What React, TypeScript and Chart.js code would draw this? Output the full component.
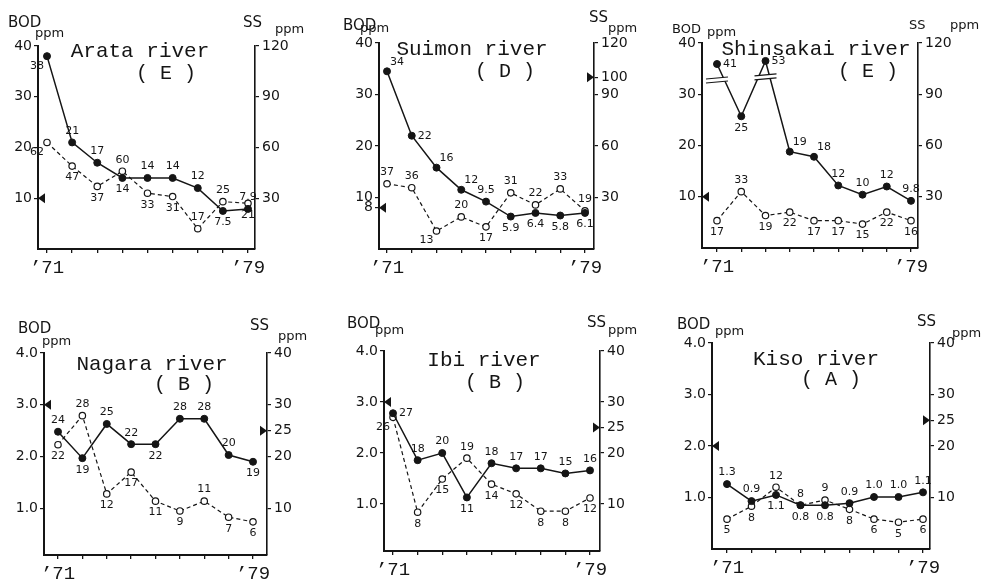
import React, { useEffect, useRef } from "react";
import { Chart, registerables } from "chart.js";

Chart.register(...registerables);

// ---------- data ----------
const years = [1971, 1972, 1973, 1974, 1975, 1976, 1977, 1978, 1979];
const firstYearLabel = "’71";
const lastYearLabel = "’79";

const arataBOD = [38, 21, 17, 14, 14, 14, 12, 7.5, 7.9];
const arataBODLabels = ["38", "21", "17", "14", "14", "14", "12", "7.5", "7.9"];
const arataSS = [63, 49, 37, 46, 33, 31, 12, 28, 27];
const arataSSLabels = ["62", "47", "37", "60", "33", "31", "17", "25", "21"];

const suimonBOD = [34.5, 22, 15.8, 11.5, 9.2, 6.3, 7.0, 6.5, 7.0];
const suimonBODLabels = ["34", "22", "16", "12", "9.5", "5.9", "6.4", "5.8", "6.1"];
const suimonSS = [38, 35.7, 10.5, 18.7, 12.9, 32.7, 25.7, 35, 22.2];
const suimonSSLabels = ["37", "36", "13", "20", "17", "31", "22", "33", "19"];

const shinsakaiBOD = [35.9, 25.7, 36.5, 18.8, 17.8, 12.2, 10.4, 12, 9.2];
const shinsakaiBODLabels = ["41", "25", "53", "19", "18", "12", "10", "12", "9.8"];
const shinsakaiSS = [16, 33, 19, 21, 16, 16, 14, 21, 16];
const shinsakaiSSLabels = ["17", "33", "19", "22", "17", "17", "15", "22", "16"];

const nagaraBOD = [2.48, 1.97, 2.63, 2.24, 2.24, 2.73, 2.73, 2.03, 1.9];
const nagaraBODLabels = ["24", "19", "25", "22", "22", "28", "28", "20", "19"];
const nagaraSS = [22.3, 27.9, 12.8, 17, 11.4, 9.5, 11.4, 8.3, 7.4];
const nagaraSSLabels = ["22", "28", "12", "17", "11", "9", "11", "7", "6"];

const ibiBOD = [2.78, 1.86, 2.0, 1.13, 1.8, 1.7, 1.7, 1.6, 1.66];
const ibiBODLabels = ["27", "18", "20", "11", "18", "17", "17", "15", "16"];
const ibiSS = [27, 8.4, 14.9, 19, 13.9, 12, 8.6, 8.6, 11.2];
const ibiSSLabels = ["26", "8", "15", "19", "14", "12", "8", "8", "12"];

const kisoBOD = [1.26, 0.93, 1.05, 0.85, 0.85, 0.89, 1.01, 1.01, 1.1];
const kisoBODLabels = ["1.3", "0.9", "1.1", "0.8", "0.8", "0.9", "1.0", "1.0", "1.1"];
const kisoSS = [5.8, 8.3, 12, 8.5, 9.5, 7.7, 5.8, 5.2, 5.8];
const kisoSSLabels = ["5", "8", "12", "8", "9", "8", "6", "5", "6"];

const topBODTicks = [10, 20, 30, 40];
const suimonBODTicks = [8, 10, 20, 30, 40];
const topSSTicks = [30, 60, 90, 120];
const suimonSSTicks = [30, 60, 90, 100, 120];
const bottomBODTicks = [1, 2, 3, 4];
const bottomSSTicks = [10, 20, 25, 30, 40];

// ---------- panels ----------
type Panel = {
  name: string;
  grade: string;
  bod: number[];
  bodLabels: string[];
  ss: number[];
  ssLabels: string[];
  bodTicks: number[];
  ssTicks: number[];
  bodMax: number;
  ssMax: number;
  bodStd: number;
  ssStd: number | null;
  decimals: number;
  breaks: number[];
};

const panels: Panel[] = [
  { name: "Arata river", grade: "( E )", bod: arataBOD, bodLabels: arataBODLabels, ss: arataSS, ssLabels: arataSSLabels, bodTicks: topBODTicks, ssTicks: topSSTicks, bodMax: 40, ssMax: 120, bodStd: 10, ssStd: null, decimals: 0, breaks: [] },
  { name: "Suimon river", grade: "( D )", bod: suimonBOD, bodLabels: suimonBODLabels, ss: suimonSS, ssLabels: suimonSSLabels, bodTicks: suimonBODTicks, ssTicks: suimonSSTicks, bodMax: 40, ssMax: 120, bodStd: 8, ssStd: 100, decimals: 0, breaks: [] },
  { name: "Shinsakai river", grade: "( E )", bod: shinsakaiBOD, bodLabels: shinsakaiBODLabels, ss: shinsakaiSS, ssLabels: shinsakaiSSLabels, bodTicks: topBODTicks, ssTicks: topSSTicks, bodMax: 40, ssMax: 120, bodStd: 10, ssStd: null, decimals: 0, breaks: [0, 2] },
  { name: "Nagara river", grade: "( B )", bod: nagaraBOD, bodLabels: nagaraBODLabels, ss: nagaraSS, ssLabels: nagaraSSLabels, bodTicks: bottomBODTicks, ssTicks: bottomSSTicks, bodMax: 4, ssMax: 40, bodStd: 3, ssStd: 25, decimals: 1, breaks: [] },
  { name: "Ibi river", grade: "( B )", bod: ibiBOD, bodLabels: ibiBODLabels, ss: ibiSS, ssLabels: ibiSSLabels, bodTicks: bottomBODTicks, ssTicks: bottomSSTicks, bodMax: 4, ssMax: 40, bodStd: 3, ssStd: 25, decimals: 1, breaks: [] },
  { name: "Kiso river", grade: "( A )", bod: kisoBOD, bodLabels: kisoBODLabels, ss: kisoSS, ssLabels: kisoSSLabels, bodTicks: bottomBODTicks, ssTicks: bottomSSTicks, bodMax: 4, ssMax: 40, bodStd: 2, ssStd: 25, decimals: 1, breaks: [] },
];

// ---------- layout (page pixel geometry, label placement) ----------
type Pt = [number, number];
type Layout = {
  cx: number; cy: number; cw: number; ch: number;
  L: number; R: number; T: number; B: number;
  x0: number; x1: number; yMin: number;
  title: Pt; grade: Pt; bodHead: Pt; ppmL: Pt; ssHead: Pt; ppmR: Pt;
  headSize: number;
  bodPos: string[]; ssPos: string[];
};

const layouts: Layout[] = [
  { cx: 0, cy: 0, cw: 320, ch: 290, L: 38, R: 255, T: 46, B: 249, x0: 47, x1: 248, yMin: 0,
    title: [140, 57], grade: [166, 79], bodHead: [8, 27], ppmL: [35, 37], ssHead: [243, 27], ppmR: [275, 33], headSize: 15,
    bodPos: ["bl", "a", "a", "b", "a", "a", "a", "b", "a"], ssPos: ["bl", "b", "b", "a", "b", "b", "a", "a", "b"] },
  { cx: 320, cy: 0, cw: 320, ch: 290, L: 379, R: 594, T: 43, B: 249, x0: 387, x1: 585, yMin: 0,
    title: [472, 55], grade: [505, 77], bodHead: [343, 30], ppmL: [360, 32], ssHead: [589, 22], ppmR: [608, 32], headSize: 15,
    bodPos: ["ar", "r", "ar", "ar", "a", "b", "b", "b", "b"], ssPos: ["a", "a", "bl", "a", "b", "a", "a", "a", "a"] },
  { cx: 640, cy: 0, cw: 342, ch: 290, L: 702, R: 918, T: 43, B: 248, x0: 717, x1: 911, yMin: 0,
    title: [816, 55], grade: [868, 77], bodHead: [672, 33], ppmL: [707, 36], ssHead: [909, 29], ppmR: [950, 29], headSize: 13,
    bodPos: ["r", "b", "r", "ar", "ar", "a", "a", "a", "a"], ssPos: ["b", "a", "b", "b", "b", "b", "b", "b", "b"] },
  { cx: 0, cy: 290, cw: 320, ch: 289, L: 44, R: 267, T: 353, B: 555, x0: 58, x1: 253, yMin: 0.1,
    title: [152, 370], grade: [184, 390], bodHead: [18, 333], ppmL: [42, 345], ssHead: [250, 330], ppmR: [278, 340], headSize: 15,
    bodPos: ["a", "b", "a", "a", "b", "a", "a", "a", "b"], ssPos: ["b", "a", "b", "b", "b", "b", "a", "b", "b"] },
  { cx: 320, cy: 290, cw: 320, ch: 289, L: 384, R: 600, T: 351, B: 551, x0: 393, x1: 590, yMin: 0.08,
    title: [484, 366], grade: [495, 388], bodHead: [347, 328], ppmL: [375, 334], ssHead: [587, 327], ppmR: [608, 334], headSize: 15,
    bodPos: ["r", "a", "a", "b", "a", "a", "a", "a", "a"], ssPos: ["bl", "b", "b", "a", "b", "b", "b", "b", "b"] },
  { cx: 640, cy: 290, cw: 342, ch: 289, L: 712, R: 930, T: 343, B: 549, x0: 727, x1: 923, yMin: 0,
    title: [816, 365], grade: [831, 385], bodHead: [677, 329], ppmL: [715, 335], ssHead: [917, 326], ppmR: [952, 337], headSize: 15,
    bodPos: ["a", "a", "b", "b", "b", "a", "a", "a", "a"], ssPos: ["b", "b", "a", "a", "a", "b", "b", "b", "b"] },
];

const INK = "#151515";

function placeText(ctx: CanvasRenderingContext2D, text: string, x: number, y: number, code: string) {
  let dx = 0, dy = 0, align: CanvasTextAlign = "center", base: CanvasTextBaseline = "middle";
  const has = (c: string) => code.includes(c);
  if (code === "a") { dy = -6; base = "bottom"; }
  else if (code === "b") { dy = 6; base = "top"; }
  else if (code === "l") { dx = -6; align = "right"; }
  else if (code === "r") { dx = 6; align = "left"; }
  else {
    if (has("a")) { dy = -4; base = "bottom"; }
    if (has("b")) { dy = 4; base = "top"; }
    if (has("l")) { dx = -3; align = "right"; }
    if (has("r")) { dx = 3; align = "left"; }
  }
  ctx.textAlign = align;
  ctx.textBaseline = base;
  ctx.fillText(text, x + dx, y + dy);
}

function buildConfig(p: Panel, lay: Layout): any {
  const pxPerYear = (lay.x1 - lay.x0) / 8;
  const xMin = 1971 - (lay.x0 - lay.L) / pxPerYear;
  const xMax = 1979 + (lay.R - lay.x1) / pxPerYear;
  const ratio = p.ssMax / p.bodMax;

  const annotate = {
    id: "annotate" + p.name.replace(/\s/g, ""),
    afterDatasetsDraw(chart: any) {
      const ctx: CanvasRenderingContext2D = chart.ctx;
      const ca = chart.chartArea;
      const yS = chart.scales.y;
      const y2S = chart.scales.y2;
      ctx.save();
      ctx.fillStyle = INK;
      ctx.strokeStyle = INK;

      // break marks
      const bodMeta = chart.getDatasetMeta(0);
      p.breaks.forEach((i) => {
        const el = bodMeta.data[i];
        const bx = el.x, by = el.y + 14;
        ctx.fillStyle = "#fff";
        ctx.beginPath();
        ctx.moveTo(bx - 11, by + 1); ctx.lineTo(bx + 11, by - 1); ctx.lineTo(bx + 11, by + 3); ctx.lineTo(bx - 11, by + 5);
        ctx.closePath(); ctx.fill();
        ctx.lineWidth = 1.2;
        ctx.beginPath();
        ctx.moveTo(bx - 11, by + 1); ctx.lineTo(bx + 11, by - 1);
        ctx.moveTo(bx - 11, by + 5); ctx.lineTo(bx + 11, by + 3);
        ctx.stroke();
        ctx.fillStyle = INK;
      });

      // value labels
      ctx.font = "11px 'DejaVu Sans'";
      const ssMeta = chart.getDatasetMeta(1);
      bodMeta.data.forEach((el: any, i: number) => placeText(ctx, p.bodLabels[i], el.x, el.y, lay.bodPos[i]));
      ssMeta.data.forEach((el: any, i: number) => placeText(ctx, p.ssLabels[i], el.x, el.y, lay.ssPos[i]));

      // environmental standard markers
      const ly = yS.getPixelForValue(p.bodStd);
      ctx.beginPath();
      ctx.moveTo(ca.left, ly); ctx.lineTo(ca.left + 7, ly - 5); ctx.lineTo(ca.left + 7, ly + 5);
      ctx.closePath(); ctx.fill();
      if (p.ssStd !== null) {
        const ry = y2S.getPixelForValue(p.ssStd);
        ctx.beginPath();
        ctx.moveTo(ca.right, ry); ctx.lineTo(ca.right - 7, ry - 5); ctx.lineTo(ca.right - 7, ry + 5);
        ctx.closePath(); ctx.fill();
      }

      // titles and axis headers
      ctx.textBaseline = "alphabetic";
      ctx.textAlign = "center";
      ctx.font = "21px 'Liberation Mono'";
      ctx.fillText(p.name, lay.title[0] - lay.cx, lay.title[1] - lay.cy);
      ctx.font = "20px 'Liberation Mono'";
      ctx.fillText(p.grade, lay.grade[0] - lay.cx, lay.grade[1] - lay.cy);
      ctx.textAlign = "left";
      ctx.font = `${lay.headSize}px 'DejaVu Sans'`;
      ctx.fillText("BOD", lay.bodHead[0] - lay.cx, lay.bodHead[1] - lay.cy);
      ctx.fillText("SS", lay.ssHead[0] - lay.cx, lay.ssHead[1] - lay.cy);
      ctx.font = "13px 'DejaVu Sans'";
      ctx.fillText("ppm", lay.ppmL[0] - lay.cx, lay.ppmL[1] - lay.cy);
      ctx.fillText("ppm", lay.ppmR[0] - lay.cx, lay.ppmR[1] - lay.cy);
      ctx.restore();
    },
  };

  const tickFont = { family: "'DejaVu Sans'", size: 14 };

  return {
    type: "line",
    data: {
      datasets: [
        {
          label: "BOD",
          data: years.map((x, i) => ({ x, y: p.bod[i] })),
          yAxisID: "y",
          borderColor: INK,
          borderWidth: 1.5,
          pointRadius: 3.5,
          pointBackgroundColor: INK,
          pointBorderColor: INK,
          pointBorderWidth: 1,
          tension: 0,
        },
        {
          label: "SS",
          data: years.map((x, i) => ({ x, y: p.ss[i] })),
          yAxisID: "y2",
          borderColor: INK,
          borderWidth: 1.2,
          borderDash: [4, 3],
          pointRadius: 3.2,
          pointBackgroundColor: "#fff",
          pointBorderColor: INK,
          pointBorderWidth: 1.2,
          tension: 0,
        },
      ],
    },
    options: {
      animation: false,
      responsive: false,
      maintainAspectRatio: false,
      devicePixelRatio: 1,
      layout: { padding: { top: lay.T - lay.cy, left: 0, right: 0, bottom: 0 } },
      plugins: { legend: { display: false }, tooltip: { enabled: false }, title: { display: false } },
      scales: {
        x: {
          type: "linear",
          min: xMin,
          max: xMax,
          afterBuildTicks: (s: any) => { s.ticks = years.map((v) => ({ value: v })); },
          afterFit: (s: any) => { s.height = lay.cy + lay.ch - lay.B; },
          ticks: {
            autoSkip: false,
            maxRotation: 0,
            padding: 4,
            color: INK,
            font: { family: "'Liberation Mono'", size: 19 },
            callback: (v: number) => (v === years[0] ? firstYearLabel : v === years[years.length - 1] ? lastYearLabel : ""),
          },
          grid: { drawOnChartArea: false, drawTicks: true, tickLength: 4, color: INK, lineWidth: 1.3 },
          border: { display: true, color: INK, width: 2 },
        },
        y: {
          position: "left",
          min: lay.yMin,
          max: p.bodMax,
          afterBuildTicks: (s: any) => { s.ticks = p.bodTicks.map((v) => ({ value: v })); },
          afterFit: (s: any) => { s.width = lay.L - lay.cx; },
          ticks: {
            padding: 2,
            color: INK,
            font: tickFont,
            callback: (v: number) => (p.decimals ? v.toFixed(1) : String(v)),
          },
          grid: { drawOnChartArea: false, tickLength: 4, color: INK, lineWidth: 1.2 },
          border: { display: true, color: INK, width: 2 },
        },
        y2: {
          position: "right",
          min: lay.yMin * ratio,
          max: p.ssMax,
          afterBuildTicks: (s: any) => { s.ticks = p.ssTicks.map((v) => ({ value: v })); },
          afterFit: (s: any) => { s.width = lay.cx + lay.cw - lay.R; },
          ticks: { padding: 3, color: INK, font: tickFont, callback: (v: number) => String(v) },
          grid: { drawOnChartArea: false, tickLength: 4, color: INK, lineWidth: 1.2 },
          border: { display: true, color: INK, width: 1.6 },
        },
      },
    },
    plugins: [annotate],
  };
}

function PanelChart({ panel, lay }: { panel: Panel; lay: Layout }) {
  const ref = useRef<HTMLCanvasElement>(null);
  useEffect(() => {
    if (!ref.current) return;
    const chart = new Chart(ref.current, buildConfig(panel, lay));
    return () => chart.destroy();
  }, [panel, lay]);
  return (
    <canvas
      ref={ref}
      width={lay.cw}
      height={lay.ch}
      style={{ position: "absolute", left: lay.cx, top: lay.cy, width: lay.cw, height: lay.ch }}
    />
  );
}

export default function App() {
  return (
    <div style={{ position: "fixed", left: 0, top: 0, width: 982, height: 579, background: "#fff", overflow: "hidden" }}>
      {panels.map((p, i) => (
        <PanelChart key={p.name} panel={p} lay={layouts[i]} />
      ))}
    </div>
  );
}
